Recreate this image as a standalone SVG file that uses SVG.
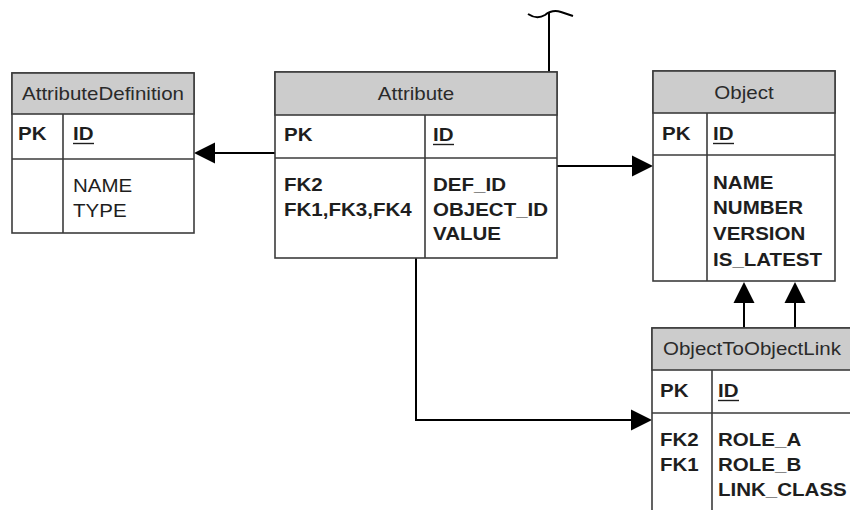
<svg xmlns="http://www.w3.org/2000/svg" width="850" height="510" viewBox="0 0 850 510">
  <defs>
    <style>
      .box { fill: #ffffff; stroke: #3c3c3c; stroke-width: 1.6; }
      .hdr { fill: #cccccc; stroke: #3c3c3c; stroke-width: 1.6; }
      .sep { stroke: #3c3c3c; stroke-width: 1.6; fill: none; }
      .title { font-family: "Liberation Sans", Arial, sans-serif; font-size: 18px; fill: #2a2a2a; }
      .fld { font-family: "Liberation Sans", Arial, sans-serif; font-size: 18px; font-weight: bold; fill: #1e1e1e; }
      .reg { font-family: "Liberation Sans", Arial, sans-serif; font-size: 18px; fill: #1e1e1e; }
      .ul { stroke: #1e1e1e; stroke-width: 1.4; }
      .conn { stroke: #000000; stroke-width: 2; fill: none; }
      .head { fill: #000000; }
    </style>
  </defs>
  <rect width="850" height="510" fill="#ffffff"/>

  <!-- relationship lines -->
  <g id="connectors">
    <path class="conn" d="M275,153 H214"/>
    <polygon class="head" points="194,153 215,142.5 215,163.5"/>
    <path class="conn" d="M557,166 H633"/>
    <polygon class="head" points="653,166 632,155.5 632,176.5"/>
    <path class="conn" d="M744,328 V302"/>
    <polygon class="head" points="744,282 733.5,303 754.5,303"/>
    <path class="conn" d="M795,328 V302"/>
    <polygon class="head" points="795,282 784.5,303 805.5,303"/>
    <path class="conn" d="M416,258 V420 H632"/>
    <polygon class="head" points="652,420 631,409.5 631,430.5"/>
    <path class="conn" d="M549,72 V13"/>
    <path class="conn" d="M528,14 C534,18 540,18 545,15 C550,11 555,10 561,12 L573,16"/>
  </g>

  <!-- AttributeDefinition table -->
  <g id="AttributeDefinition">
    <rect class="box" x="12" y="73" width="182" height="160"/>
    <rect class="hdr" x="12" y="73" width="182" height="41"/>
    <path class="sep" d="M12,159 H194 M63,114 V233"/>
    <text class="title" transform="matrix(1.14 0 0 1 103 100)" text-anchor="middle">AttributeDefinition</text>
    <text class="fld" transform="matrix(1.14 0 0 1 18 140)">PK</text>
    <text class="fld" transform="matrix(1.14 0 0 1 73 140)">ID</text>
    <line class="ul" x1="73" y1="143.5" x2="94" y2="143.5"/>
    <text class="reg" transform="matrix(1.14 0 0 1 73 192)">NAME</text>
    <text class="reg" transform="matrix(1.14 0 0 1 73 217)">TYPE</text>
  </g>

  <!-- Attribute table -->
  <g id="Attribute">
    <rect class="box" x="275" y="72" width="282" height="186"/>
    <rect class="hdr" x="275" y="72" width="282" height="43"/>
    <path class="sep" d="M275,158 H557 M425,115 V258"/>
    <text class="title" transform="matrix(1.14 0 0 1 416 100)" text-anchor="middle">Attribute</text>
    <text class="fld" transform="matrix(1.14 0 0 1 284 141)">PK</text>
    <text class="fld" transform="matrix(1.14 0 0 1 433 141)">ID</text>
    <line class="ul" x1="433" y1="144.5" x2="454" y2="144.5"/>
    <text class="fld" transform="matrix(1.14 0 0 1 284 191)">FK2</text>
    <text class="fld" transform="matrix(1.14 0 0 1 284 216)">FK1,FK3,FK4</text>
    <text class="fld" transform="matrix(1.14 0 0 1 433 191)">DEF_ID</text>
    <text class="fld" transform="matrix(1.14 0 0 1 433 216)">OBJECT_ID</text>
    <text class="fld" transform="matrix(1.14 0 0 1 433 240)">VALUE</text>
  </g>

  <!-- Object table -->
  <g id="Object">
    <rect class="box" x="653" y="71" width="182" height="210"/>
    <rect class="hdr" x="653" y="71" width="182" height="42"/>
    <path class="sep" d="M653,155 H835 M707,113 V281"/>
    <text class="title" transform="matrix(1.14 0 0 1 744 99)" text-anchor="middle">Object</text>
    <text class="fld" transform="matrix(1.14 0 0 1 662 140)">PK</text>
    <text class="fld" transform="matrix(1.14 0 0 1 713 140)">ID</text>
    <line class="ul" x1="713" y1="143.5" x2="734" y2="143.5"/>
    <text class="fld" transform="matrix(1.14 0 0 1 713 189)">NAME</text>
    <text class="fld" transform="matrix(1.14 0 0 1 713 214)">NUMBER</text>
    <text class="fld" transform="matrix(1.14 0 0 1 713 240)">VERSION</text>
    <text class="fld" transform="matrix(1.14 0 0 1 713 266)">IS_LATEST</text>
  </g>

  <!-- ObjectToObjectLink table (runs past the right and bottom edges) -->
  <g id="ObjectToObjectLink">
    <rect class="box" x="652" y="328" width="240" height="220"/>
    <rect class="hdr" x="652" y="328" width="240" height="42"/>
    <path class="sep" d="M652,413 H892 M712,370 V548"/>
    <text class="title" transform="matrix(1.14 0 0 1 663 355)">ObjectToObjectLink</text>
    <text class="fld" transform="matrix(1.14 0 0 1 660 397)">PK</text>
    <text class="fld" transform="matrix(1.14 0 0 1 718 397)">ID</text>
    <line class="ul" x1="718" y1="400.5" x2="739" y2="400.5"/>
    <text class="fld" transform="matrix(1.14 0 0 1 660 446)">FK2</text>
    <text class="fld" transform="matrix(1.14 0 0 1 660 471)">FK1</text>
    <text class="fld" transform="matrix(1.14 0 0 1 718 446)">ROLE_A</text>
    <text class="fld" transform="matrix(1.14 0 0 1 718 471)">ROLE_B</text>
    <text class="fld" transform="matrix(1.14 0 0 1 718 496)">LINK_CLASS</text>
  </g>
</svg>
